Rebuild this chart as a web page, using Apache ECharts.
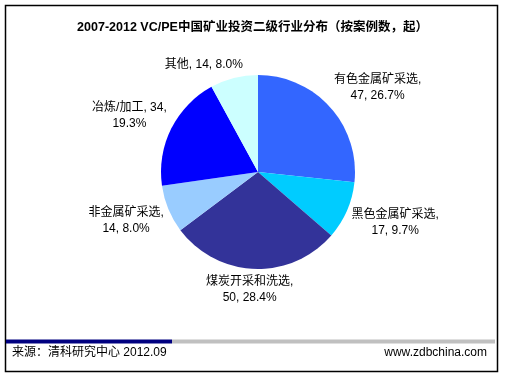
<!DOCTYPE html>
<html><head><meta charset="utf-8">
<script src="https://cdn.jsdelivr.net/npm/echarts@6/dist/echarts.min.js"></script>
<style>html,body{margin:0;padding:0;background:#fff}#c{width:505px;height:381px}</style>
</head><body><div id="c"></div>
<script>
var categories = ['有色金属矿采选','黑色金属矿采选','煤炭开采和洗选','非金属矿采选','冶炼/加工','其他'];
var values = [47, 17, 50, 14, 34, 14];
var colors = ['#3366FF','#00CCFF','#333399','#99CCFF','#0000FF','#CCFFFF'];
var titleText = '2007-2012 VC/PE中国矿业投资二级行业分布（按案例数，起）';
var sourceText = '来源：清科研究中心 2012.09';
var siteText = 'www.zdbchina.com';

var total = values.reduce(function(a,b){return a+b;},0);
var FONT = '"Liberation Sans","Noto Sans CJK SC",sans-serif';
var CX = 258, CY = 172, R = 97;

function labelText(name, v){
  var pct = (v/total*100).toFixed(1) + '%';
  if (name.length >= 6) return name + ',\n' + v + ', ' + pct;
  if (name.length >= 4) return name + ', ' + v + ',\n' + pct;
  return name + ', ' + v + ', ' + pct;
}
var cum = [];
(function(){var s=0; values.forEach(function(v){cum.push(s+v/2); s+=v;});})();

var chart = echarts.init(document.getElementById('c'), null, {renderer:'canvas'});
chart.setOption({
  animation:false,
  title:{text:titleText, left:'center', top:16, textStyle:{fontFamily:FONT, fontSize:12.5, fontWeight:'bold', color:'#000'}},
  graphic:[
    {type:'rect', shape:{x:5.5,y:5.5,width:492,height:366}, style:{fill:'none', stroke:'#000', lineWidth:1.5}, z:-1},
    {type:'rect', shape:{x:6,y:339.5,width:166,height:4}, style:{fill:'#000080'}},
    {type:'rect', shape:{x:172,y:339.5,width:323,height:4}, style:{fill:'#C0C0C0'}},
    {type:'text', left:12, top:347, style:{text:sourceText, font:'12px '+FONT, fill:'#000'}},
    {type:'text', right:18, top:347, style:{text:siteText, font:'12px '+FONT, fill:'#000'}}
  ],
  series:[{
    type:'pie',
    center:[CX, CY],
    radius:R,
    startAngle:90,
    clockwise:true,
    avoidLabelOverlap:false,
    data: categories.map(function(n,i){return {name:n, value:values[i], itemStyle:{color:colors[i]}};}),
    label:{show:true, position:'outside', formatter:function(p){return labelText(p.name, p.value);},
      fontFamily:FONT, fontSize:12, color:'#000', lineHeight:16, align:'center'},
    labelLine:{show:false},
    labelLayout:function(p){
      var a = cum[p.dataIndex]/total*2*Math.PI;
      var s = Math.sin(a), c = Math.cos(a);
      var px = CX + (R+5)*s, py = CY - (R+5)*c;
      var w = p.labelRect.width, h = p.labelRect.height;
      var kx = Math.max(-1, Math.min(1, s*3));
      var ky = Math.max(-1, Math.min(1, c*1.5));
      return {x: px + w/2*kx, y: py - h/2*ky, align:'center', verticalAlign:'middle'};
    }
  }]
});
</script></body></html>
